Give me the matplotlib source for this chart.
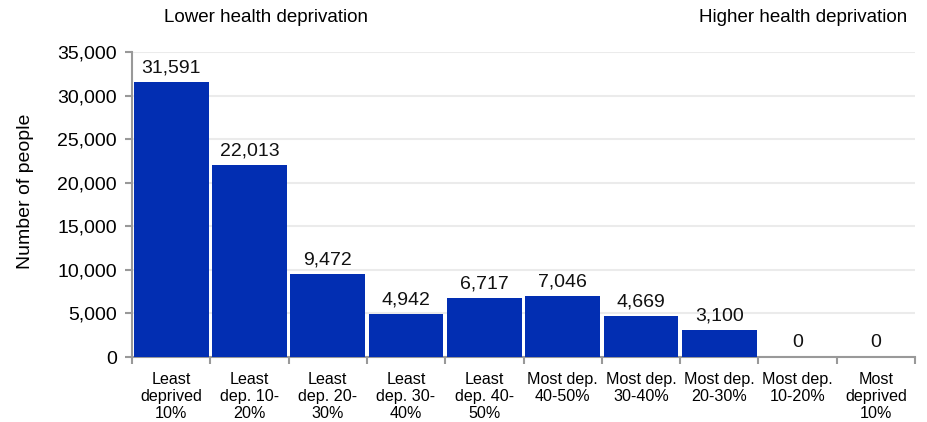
import matplotlib
matplotlib.use("Agg")
import matplotlib.pyplot as plt
import numpy as np

plt.rcParams['font.family'] = ['Liberation Sans', 'DejaVu Sans']

categories = ["Least\ndeprived\n10%", "Least\ndep. 10-\n20%", "Least\ndep. 20-\n30%",
              "Least\ndep. 30-\n40%", "Least\ndep. 40-\n50%", "Most dep.\n40-50%",
              "Most dep.\n30-40%", "Most dep.\n20-30%", "Most dep.\n10-20%",
              "Most\ndeprived\n10%"]
values = [31591, 22013, 9472, 4942, 6717, 7046, 4669, 3100, 0, 0]
yticks = [0, 5000, 10000, 15000, 20000, 25000, 30000, 35000]

fig = plt.figure(figsize=(9.28, 4.22), dpi=100)
ax = fig.add_axes([132/928, 1-357/422, (915-132)/928, (357-52)/422])

x = np.arange(len(categories))
ax.bar(x, values, width=0.955, color='#022eb2', zorder=3)
for xi, v in zip(x, values):
    ax.annotate(f"{v:,}", (xi, v), xytext=(0, 4), textcoords='offset points',
                ha='center', va='bottom', fontsize=14, color='#111111')

ax.set_xlim(-0.5, len(categories) - 0.5)
ax.set_ylim(0, 35000)
ax.set_yticks(yticks)
ax.set_yticklabels([f"{t:,}" for t in yticks], fontsize=14)
ax.yaxis.grid(True, color='#ebebeb', linewidth=1.5, zorder=0)
ax.set_axisbelow(True)

ax.set_xticks(x)
ax.set_xticklabels(categories, fontsize=11.6, linespacing=1.17)
ax.set_xticks(np.arange(-0.5, len(categories)), minor=True)
ax.tick_params(axis='x', which='major', length=0, pad=11)
ax.tick_params(axis='x', which='minor', length=5, color='#999999', width=1.5)
ax.tick_params(axis='y', length=5, color='#999999', width=1.5, pad=6)

for s in ['top', 'right']:
    ax.spines[s].set_visible(False)
for s in ['left', 'bottom']:
    ax.spines[s].set_color('#999999')
    ax.spines[s].set_linewidth(1.5)

fig.text(26/928, 1-191/422, "Number of people", rotation=90, ha='center', va='center', fontsize=14)
fig.text(266/928, 1-18/422, "Lower health deprivation", ha='center', va='center', fontsize=13.5)
fig.text(907/928, 1-18/422, "Higher health deprivation", ha='right', va='center', fontsize=13.5)

fig.savefig("out.png", dpi=100)
